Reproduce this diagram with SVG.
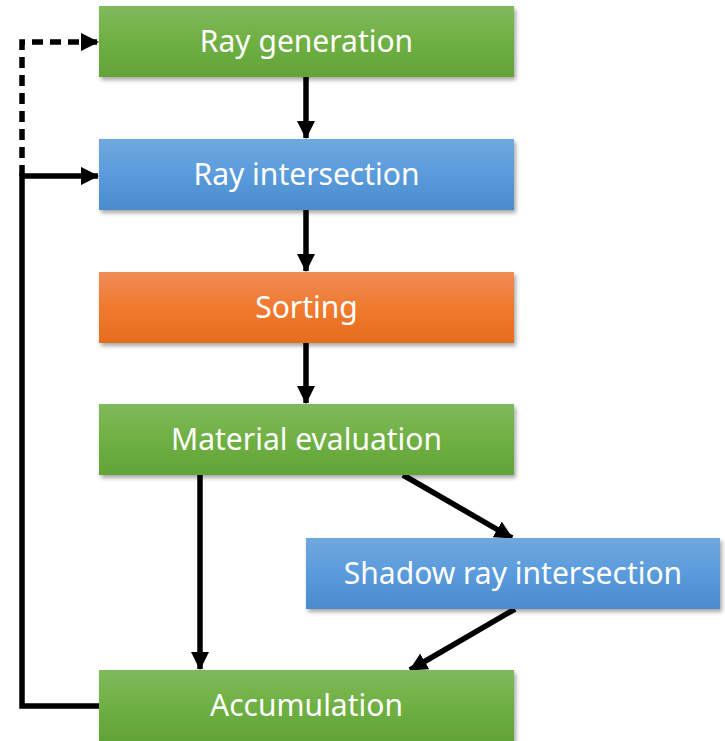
<svg xmlns="http://www.w3.org/2000/svg" width="725" height="741" viewBox="0 0 725 741">
<defs>
<linearGradient id="gGreen" x1="0" y1="0" x2="0" y2="1"><stop offset="0" stop-color="#80b95c"/><stop offset="0.5" stop-color="#6fb043"/><stop offset="1" stop-color="#63a338"/></linearGradient>
<linearGradient id="gBlue" x1="0" y1="0" x2="0" y2="1"><stop offset="0" stop-color="#70a8dd"/><stop offset="0.5" stop-color="#5a9bdc"/><stop offset="1" stop-color="#4a8bcb"/></linearGradient>
<linearGradient id="gOrange" x1="0" y1="0" x2="0" y2="1"><stop offset="0" stop-color="#f08c58"/><stop offset="0.5" stop-color="#f07a2e"/><stop offset="1" stop-color="#e66c1e"/></linearGradient>
<filter id="sh" x="-5%" y="-10%" width="112%" height="130%"><feDropShadow dx="2" dy="3" stdDeviation="2" flood-color="#000" flood-opacity="0.35"/></filter>
<marker id="ah" markerWidth="3.3" markerHeight="3.3" refX="3.1" refY="1.65" orient="auto" markerUnits="strokeWidth"><path d="M0,0 L3.3,1.65 L0,3.3 z" fill="#000"/></marker>
</defs>
<style>
.box{filter:url(#sh)}
.lbl{font-family:"Noto Sans","Open Sans",sans-serif;font-size:30px;fill:#fff;text-anchor:middle}
.c{stroke:#000;stroke-width:5.5;fill:none}
</style>
<g id="connectors">
<path class="c" d="M306,77 V138" marker-end="url(#ah)"/>
<path class="c" d="M306,210 V271" marker-end="url(#ah)"/>
<path class="c" d="M306,343 V403" marker-end="url(#ah)"/>
<path class="c" d="M200,475 V669" marker-end="url(#ah)"/>
<path class="c" d="M403,475 L512,538" marker-end="url(#ah)"/>
<path class="c" d="M515,609 L410,670" marker-end="url(#ah)"/>
<path class="c" d="M99,706 H22 V176 H98" marker-end="url(#ah)"/>
<path class="c" d="M22,176 V42 H98" stroke-dasharray="11,7" marker-end="url(#ah)"/>
</g>
<g id="ray-generation"><rect class="box" x="99" y="6" width="415" height="71" fill="url(#gGreen)"/><text class="lbl" x="306.5" y="52">Ray generation</text></g>
<g id="ray-intersection"><rect class="box" x="99" y="139" width="415" height="71" fill="url(#gBlue)"/><text class="lbl" x="306.5" y="185">Ray intersection</text></g>
<g id="sorting"><rect class="box" x="99" y="272" width="415" height="71" fill="url(#gOrange)"/><text class="lbl" x="306.5" y="318">Sorting</text></g>
<g id="material-evaluation"><rect class="box" x="99" y="404" width="415" height="71" fill="url(#gGreen)"/><text class="lbl" x="306.5" y="450">Material evaluation</text></g>
<g id="shadow-ray-intersection"><rect class="box" x="306" y="538" width="414" height="71" fill="url(#gBlue)"/><text class="lbl" x="513" y="584">Shadow ray intersection</text></g>
<g id="accumulation"><rect class="box" x="99" y="670" width="415" height="71" fill="url(#gGreen)"/><text class="lbl" x="306.5" y="716">Accumulation</text></g>
</svg>
